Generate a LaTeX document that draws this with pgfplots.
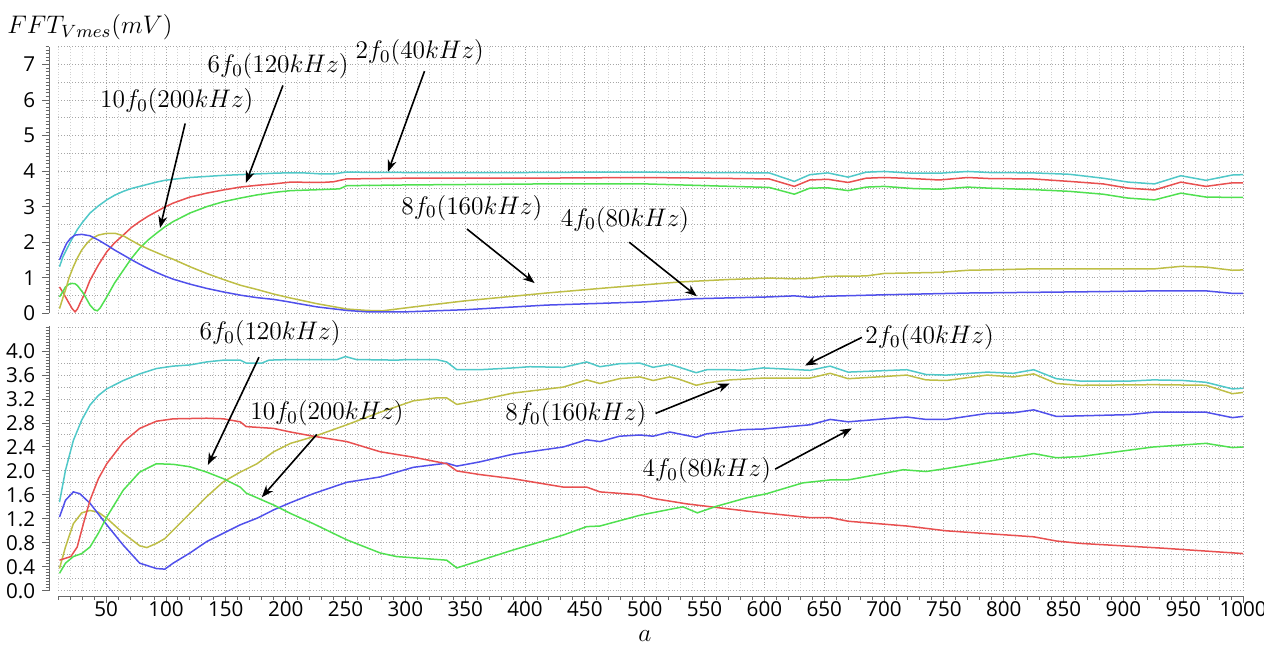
\RequirePackage{fix-cm}
\documentclass[border=0pt]{standalone}
\usepackage{pgfplots}
\pgfplotsset{compat=1.18}
\usepackage{fontspec}
\usetikzlibrary{arrows.meta}
\newfontfamily\ticksf{Open Sans}
\definecolor{ccyan}{RGB}{80,200,200}
\definecolor{cred}{RGB}{232,80,80}
\definecolor{cgreen}{RGB}{80,224,80}
\definecolor{colive}{RGB}{190,190,70}
\definecolor{cblue}{RGB}{80,80,235}
\tikzset{
  ann/.style={font=\fontsize{12.7}{15}\selectfont, inner sep=0pt},
  arr/.style={-{Stealth[length=6pt,width=4.5pt]}, line width=0.8pt, black},
}
\pgfplotsset{
  common/.style={
    scale only axis, width=592.4pt,
    xmin=10, xmax=1000,
    xtick={50,100,...,1000},
    minor xtick={10,20,...,1000},
    xmajorgrids, xminorgrids,
    ymajorgrids=false, yminorgrids=false,
    major grid style={densely dotted, black!35, line width=0.5pt},
    minor grid style={densely dotted, black!18, line width=0.5pt},
    axis y line*=left, axis x line*=bottom,
    axis line style={black!60, line width=0.6pt},
    every tick/.style={black!60, line width=0.5pt},
    tick align=outside,
    major tick length=3.5pt, minor tick length=1.8pt,
    /pgf/number format/assume math mode=true,
    /pgf/number format/1000 sep={},
    scaled x ticks=false, scaled y ticks=false,
    tick label style={font=\ticksf\fontsize{10.3}{12}\selectfont, text=black},
    xticklabel style={yshift=2.2pt, inner sep=1pt},
    clip=false,
    every axis plot/.append style={line width=0.75pt, no markers},
    axis y line shift=4.5pt,
  },
}
\begin{document}
\begin{tikzpicture}
\path[use as bounding box] (0,0) rectangle (632pt,-323pt);
\node[font=\fontsize{12.7}{15}\selectfont] at (45pt,-13.5pt) {$FFT_{Vmes}(mV)$};
\node[font=\fontsize{12.7}{15}\selectfont, inner sep=0pt, anchor=base] at (322.5pt,-320.5pt) {$a$};
% ---------------- TOP PANEL ----------------
\begin{axis}[common,
  at={(29.15pt,-23.35pt)}, anchor=north west, height=133.3pt,
  ymin=0, ymax=7.5,
  ytick={0,1,...,7},
  minor ytick={0,0.1,...,7.5},
  xticklabels={}, x axis line style={draw=none},
  xtick style={draw=none},
  extra y ticks={0,0.5,...,7.5},
  extra y tick labels={},
  extra y tick style={ymajorgrids=true, major tick length=0pt},
]
% cyan 2f0
\addplot[ccyan] coordinates {(11,1.31) (14,1.60) (17,1.80) (20,2.00) (22.6,2.16) (26,2.36) (30,2.55) (36.5,2.82) (43.5,3.02) (50.5,3.19) (57,3.32) (64.3,3.43) (71,3.51) (78,3.57) (85,3.63) (92,3.69) (99,3.74) (106,3.77) (120,3.82) (134,3.85) (148,3.88) (162,3.90) (176,3.92) (190,3.94) (200,3.95) (215,3.95) (230,3.92) (240,3.92) (250,3.97) (300,3.96) (400,3.96) (450,3.97) (500,3.97) (550,3.96) (604,3.95) (625,3.71) (638,3.90) (653,3.95) (670,3.83) (685,3.97) (700,3.99) (724,3.94) (746,3.94) (770,3.99) (788,3.96) (824,3.95) (855,3.91) (883,3.80) (904,3.69) (926,3.64) (948,3.87) (969,3.74) (991,3.89) (1000,3.90)};
% red 6f0
\addplot[cred] coordinates {(11,0.74) (14,0.58) (16,0.46) (19,0.28) (21.6,0.13) (24,0.04) (26,0.12) (28,0.27) (32,0.55) (36.5,0.93) (43.5,1.36) (50.5,1.73) (57,1.98) (64.3,2.20) (71,2.41) (78,2.58) (85,2.73) (92,2.86) (99,2.99) (106,3.10) (120,3.27) (134,3.38) (148,3.47) (162,3.55) (176,3.60) (190,3.64) (204,3.69) (230,3.68) (240,3.70) (251,3.78) (300,3.80) (400,3.80) (500,3.82) (604,3.78) (625,3.57) (638,3.75) (653,3.77) (670,3.68) (685,3.80) (700,3.82) (724,3.79) (746,3.75) (770,3.82) (788,3.79) (824,3.78) (855,3.71) (883,3.64) (904,3.52) (926,3.47) (948,3.69) (969,3.57) (991,3.67) (1000,3.67)};
% green 10f0
\addplot[cgreen] coordinates {(11,0.46) (14,0.62) (16,0.74) (19,0.82) (21.6,0.84) (24,0.83) (26,0.78) (31,0.56) (36.5,0.23) (40,0.10) (42.6,0.07) (45,0.15) (50.5,0.46) (57,0.85) (64.3,1.21) (71,1.54) (78,1.83) (85,2.06) (92,2.25) (99,2.43) (106,2.58) (120,2.82) (134,3.00) (148,3.14) (162,3.24) (176,3.33) (190,3.40) (204,3.45) (230,3.48) (245,3.50) (251,3.59) (300,3.61) (418,3.64) (500,3.64) (604,3.54) (625,3.35) (638,3.52) (653,3.53) (670,3.45) (685,3.55) (700,3.57) (724,3.51) (746,3.49) (770,3.55) (788,3.52) (824,3.48) (855,3.43) (883,3.35) (904,3.24) (926,3.19) (948,3.38) (969,3.27) (991,3.26) (1000,3.26)};
% olive 8f0
\addplot[colive] coordinates {(11,0.13) (14,0.45) (16,0.65) (19,1.00) (22.6,1.31) (26,1.56) (29.6,1.78) (33,1.93) (36.5,2.06) (40,2.14) (43.5,2.20) (50.5,2.25) (57.5,2.25) (64.3,2.18) (71,2.05) (78,1.92) (85,1.81) (92,1.71) (99,1.61) (106,1.52) (120,1.31) (134,1.12) (148,0.95) (162,0.79) (176,0.67) (190,0.54) (204,0.43) (226,0.27) (251,0.12) (268,0.08) (281,0.07) (312,0.20) (350,0.35) (418,0.57) (470,0.72) (529,0.88) (570,0.95) (604,0.99) (625,0.97) (638,0.98) (653,1.04) (685,1.05) (700,1.12) (746,1.15) (770,1.21) (800,1.23) (824,1.25) (883,1.25) (926,1.25) (948,1.32) (969,1.30) (991,1.21) (1000,1.22)};
% blue 4f0
\addplot[cblue] coordinates {(11,1.50) (14,1.75) (17,1.97) (20,2.10) (24,2.20) (29.6,2.22) (36.5,2.18) (43.5,2.06) (50.5,1.92) (57,1.78) (64.3,1.64) (71,1.51) (78,1.38) (85,1.26) (92,1.15) (99,1.05) (106,0.96) (120,0.82) (134,0.70) (148,0.60) (162,0.51) (176,0.44) (190,0.39) (201,0.33) (226,0.18) (251,0.08) (268,0.04) (300,0.04) (350,0.10) (418,0.23) (500,0.32) (542,0.41) (604,0.46) (625,0.49) (638,0.45) (653,0.48) (700,0.52) (770,0.57) (883,0.61) (926,0.63) (969,0.63) (991,0.56) (1000,0.56)};
% annotations
\node[ann] at (axis cs:312,7.34) {$2f_0(40kHz)$};
\draw[arr] (axis cs:316,6.81) -- (axis cs:285.5,3.98);
\node[ann] at (axis cs:193.6,6.95) {$6f_0(120kHz)$};
\draw[arr] (axis cs:197.7,6.41) -- (axis cs:166.8,3.67);
\node[ann] at (axis cs:109,5.96) {$10f_0(200kHz)$};
\draw[arr] (axis cs:116,5.34) -- (axis cs:95,2.40);
\node[ann] at (axis cs:355.6,2.97) {$8f_0(160kHz)$};
\draw[arr] (axis cs:351.5,2.37) -- (axis cs:408,0.85);
\node[ann] at (axis cs:483.5,2.63) {$4f_0(80kHz)$};
\draw[arr] (axis cs:487,2.0) -- (axis cs:543.6,0.48);
\end{axis}
% ---------------- BOTTOM PANEL ----------------
\begin{axis}[common,
  at={(29.15pt,-163pt)}, anchor=north west, height=132.35pt,
  ymin=0, ymax=4.42,
  ytick={0,0.4,0.8,1.2,1.6,2,2.4,2.8,3.2,3.6,4},
  minor ytick={0,0.05,...,4.42},
  yticklabel style={/pgf/number format/.cd, fixed, fixed zerofill, precision=1},
  axis x line shift=2.7pt,
  extra y ticks={0,0.2,...,4.4},
  extra y tick labels={},
  extra y tick style={ymajorgrids=true, major tick length=0pt},
]
\addplot[ccyan] coordinates {(11,1.48) (16,2.01) (22.6,2.51) (29.6,2.85) (36.5,3.10) (43.5,3.26) (50.5,3.37) (64.3,3.51) (78,3.62) (92,3.71) (106,3.75) (120,3.77) (134,3.82) (148,3.85) (162,3.85) (167,3.80) (180,3.80) (186,3.85) (204,3.86) (243,3.86) (250,3.91) (259,3.86) (293,3.85) (301,3.86) (326,3.86) (334.5,3.82) (343,3.69) (362,3.69) (390,3.72) (404,3.74) (432,3.73) (451.5,3.82) (462.6,3.74) (479,3.79) (496,3.80) (507,3.73) (521,3.78) (529,3.73) (543,3.64) (552,3.69) (571,3.69) (582,3.68) (599,3.72) (638,3.68) (655,3.75) (670,3.65) (719,3.69) (735,3.61) (752,3.60) (786,3.65) (808,3.63) (825,3.69) (844,3.54) (864,3.50) (905,3.50) (925,3.52) (950,3.51) (969,3.48) (991,3.37) (1000,3.38)};
\addplot[colive] coordinates {(11,0.37) (16,0.73) (22.6,1.12) (29.6,1.30) (36.5,1.34) (43.5,1.31) (50.5,1.21) (64.3,0.96) (78,0.75) (84,0.72) (92,0.79) (99,0.87) (106,1.01) (120,1.29) (134,1.57) (148,1.82) (162,1.98) (176,2.12) (190,2.32) (204,2.46) (223,2.57) (251,2.77) (279,2.98) (306.6,3.17) (326,3.22) (334.5,3.22) (343,3.11) (362,3.18) (390,3.30) (432,3.40) (451.5,3.52) (462.6,3.46) (479,3.54) (496,3.57) (507,3.51) (521,3.57) (529,3.53) (543,3.43) (552,3.47) (571,3.52) (599,3.55) (638,3.55) (655,3.63) (670,3.54) (719,3.60) (735,3.52) (752,3.51) (786,3.60) (808,3.57) (825,3.62) (844,3.46) (864,3.43) (925,3.44) (969,3.43) (991,3.29) (1000,3.31)};
\addplot[cblue] coordinates {(11,1.23) (16,1.51) (22.6,1.65) (28,1.62) (36.5,1.46) (50.5,1.10) (64.3,0.76) (78,0.46) (92,0.37) (99,0.36) (106,0.46) (120,0.63) (134,0.82) (148,0.96) (162,1.10) (176,1.21) (190,1.35) (204,1.47) (223,1.62) (251,1.81) (279,1.90) (306.6,2.06) (334.5,2.13) (343,2.08) (362,2.15) (390,2.28) (432,2.40) (451.5,2.52) (462.6,2.49) (479,2.58) (496,2.60) (507,2.58) (521,2.65) (543,2.56) (552,2.62) (582,2.69) (599,2.70) (638,2.77) (655,2.86) (670,2.82) (719,2.90) (735,2.86) (752,2.86) (786,2.96) (808,2.97) (825,3.02) (844,2.91) (905,2.94) (925,2.98) (969,2.98) (991,2.89) (1000,2.91)};
\addplot[cred] coordinates {(11,0.51) (20.5,0.57) (25.8,0.73) (31,1.12) (36.5,1.51) (43.5,1.87) (50.5,2.12) (64.3,2.48) (78,2.71) (92,2.83) (106,2.87) (134,2.88) (148,2.87) (162,2.82) (167,2.74) (190,2.71) (204,2.65) (223,2.58) (251,2.49) (279,2.32) (306.6,2.23) (334.5,2.12) (343,2.00) (362,1.94) (390,1.87) (432,1.73) (451.5,1.73) (462.6,1.65) (496,1.60) (507,1.54) (529,1.47) (535,1.45) (585,1.33) (638,1.22) (655,1.22) (670,1.16) (719,1.08) (752,1.00) (825,0.90) (844,0.83) (864,0.79) (933,0.71) (1000,0.62)};
\addplot[cgreen] coordinates {(11,0.29) (16,0.46) (22.6,0.57) (29.6,0.62) (36.5,0.73) (43.5,0.96) (50.5,1.23) (64.3,1.68) (78,1.98) (92,2.12) (106,2.11) (120,2.07) (134,1.98) (148,1.87) (162,1.73) (167,1.63) (190,1.43) (204,1.29) (223,1.12) (251,0.85) (279,0.63) (292.7,0.57) (334.5,0.51) (343,0.38) (390,0.68) (432,0.93) (451.5,1.07) (462.6,1.08) (496,1.26) (524,1.37) (532,1.40) (544,1.30) (560,1.41) (585,1.55) (602,1.62) (632,1.80) (655,1.85) (670,1.85) (716,2.02) (735,1.99) (752,2.04) (825,2.29) (844,2.22) (864,2.24) (925,2.40) (969,2.46) (991,2.39) (1000,2.40)};
% annotations
\node[ann] at (axis cs:187,4.30) {$6f_0(120kHz)$};
\draw[arr] (axis cs:177.7,3.90) -- (axis cs:135,2.10);
\node[ann] at (axis cs:234.5,2.96) {$10f_0(200kHz)$};
\draw[arr] (axis cs:226,2.61) -- (axis cs:180,1.56);
\node[ann] at (axis cs:738,4.23) {$2f_0(40kHz)$};
\draw[arr] (axis cs:681.5,4.23) -- (axis cs:634,3.76);
\node[ann] at (axis cs:442.5,2.95) {$8f_0(160kHz)$};
\draw[arr] (axis cs:509,2.96) -- (axis cs:571,3.46);
\node[ann] at (axis cs:552,2.01) {$4f_0(80kHz)$};
\draw[arr] (axis cs:609,2.03) -- (axis cs:673,2.71);
\end{axis}
\end{tikzpicture}
\end{document}
